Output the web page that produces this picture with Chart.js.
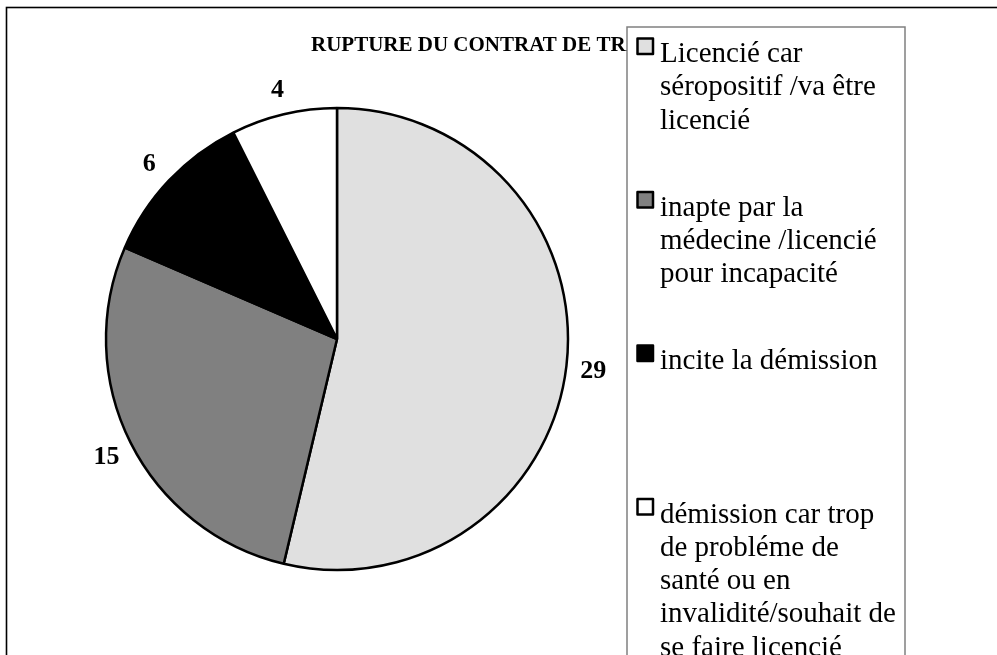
<!DOCTYPE html>
<html>
<head>
<meta charset="utf-8">
<script src="https://cdn.jsdelivr.net/npm/chart.js@4.4.1/dist/chart.umd.min.js"></script>
<style>
  html, body { margin: 0; padding: 0; background: #ffffff; }
  canvas { display: block; }
</style>
</head>
<body>
<canvas id="c" width="997" height="655"></canvas>
<script>
// ---- data ----
const chartTitle = "RUPTURE DU CONTRAT DE TRAVAIL";
const categoryLines = [
  ["Licencié car", "séropositif /va être", "licencié"],
  ["inapte par la", "médecine /licencié", "pour incapacité"],
  ["incite la démission"],
  ["démission car trop", "de probléme de", "santé ou en", "invalidité/souhait de", "se faire licencié"]
];
const categories = categoryLines.map(l => l.join(" "));
const values = [29, 15, 6, 4];
const sliceColors = ["#e0e0e0", "#808080", "#000000", "#ffffff"];

const SERIF = "'Liberation Serif', 'Times New Roman', serif";

const decorPlugin = {
  id: "decor",
  beforeDraw(chart) {
    const ctx = chart.ctx;
    ctx.save();
    ctx.fillStyle = "#ffffff";
    ctx.fillRect(0, 0, chart.width, chart.height);
    // outer chart border
    ctx.strokeStyle = "#000000";
    ctx.lineWidth = 1.6;
    ctx.strokeRect(6.5, 7.5, chart.width + 20, chart.height + 20);
    ctx.restore();
  },
  afterDraw(chart) {
    const ctx = chart.ctx;
    const meta = chart.getDatasetMeta(0);
    ctx.save();
    // data labels
    ctx.fillStyle = "#000000";
    ctx.font = "bold 26px " + SERIF;
    ctx.textAlign = "center";
    ctx.textBaseline = "alphabetic";
    meta.data.forEach((arc, i) => {
      const p = arc.getProps(["x", "y", "startAngle", "endAngle", "outerRadius"], true);
      const mid = (p.startAngle + p.endAngle) / 2;
      const r = p.outerRadius + 27;
      const lx = p.x + Math.cos(mid) * r;
      const ly = p.y + Math.sin(mid) * r;
      ctx.fillText(String(values[i]), lx, ly + 9);
    });
    // title
    ctx.font = "bold 21px " + SERIF;
    ctx.textAlign = "left";
    ctx.fillText(chartTitle, 311, 51);
    // legend box
    const lb = { left: 627, top: 27, right: 905 };
    ctx.fillStyle = "#ffffff";
    ctx.fillRect(lb.left, lb.top, lb.right - lb.left, chart.height);
    ctx.strokeStyle = "#808080";
    ctx.lineWidth = 1.5;
    ctx.beginPath();
    ctx.moveTo(lb.left, chart.height + 5);
    ctx.lineTo(lb.left, lb.top);
    ctx.lineTo(lb.right, lb.top);
    ctx.lineTo(lb.right, chart.height + 5);
    ctx.stroke();
    // legend items
    ctx.font = "29px " + SERIF;
    ctx.textAlign = "left";
    ctx.textBaseline = "alphabetic";
    const firstBaseline = 62;
    const itemStep = 153.5;
    const lineH = 33.3;
    categoryLines.forEach((lines, i) => {
      const base = firstBaseline + i * itemStep;
      // marker
      ctx.fillStyle = sliceColors[i];
      ctx.strokeStyle = "#000000";
      ctx.lineWidth = 2.5;
      ctx.lineJoin = "round";
      ctx.beginPath();
      ctx.rect(637.5, base - 23.5, 15.5, 15.5);
      ctx.fill();
      ctx.stroke();
      ctx.fillStyle = "#000000";
      lines.forEach((t, j) => ctx.fillText(t, 660, base + j * lineH));
    });
    ctx.restore();
  }
};

new Chart(document.getElementById("c"), {
  type: "pie",
  data: {
    labels: categories,
    datasets: [{
      data: values,
      backgroundColor: sliceColors,
      borderColor: "#000000",
      borderWidth: 2.5,
      radius: 231
    }]
  },
  options: {
    responsive: false,
    animation: false,
    layout: { padding: { left: 106, right: 429, top: 108, bottom: 85 } },
    plugins: {
      legend: { display: false },
      title: { display: false },
      tooltip: { enabled: false }
    }
  },
  plugins: [decorPlugin]
});
</script>
</body>
</html>
